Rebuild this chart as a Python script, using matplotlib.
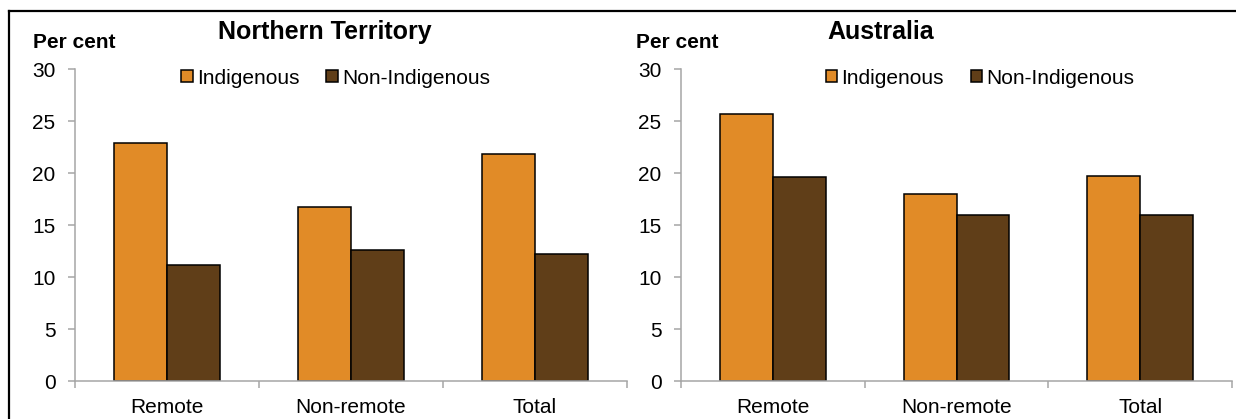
import matplotlib
matplotlib.use("Agg")
import matplotlib.pyplot as plt
from matplotlib.lines import Line2D
from matplotlib.patches import Patch
import numpy as np

plt.rcParams['font.family'] = ['Liberation Sans', 'DejaVu Sans']

categories = ["Remote", "Non-remote", "Total"]
series_names = ["Indigenous", "Non-Indigenous"]
nt_indigenous = [22.9, 16.7, 21.8]
nt_non_indigenous = [11.2, 12.6, 12.2]
aus_indigenous = [25.7, 18.0, 19.7]
aus_non_indigenous = [19.6, 16.0, 16.0]
panel_titles = ["Northern Territory", "Australia"]
yticks = [0, 5, 10, 15, 20, 25, 30]

ORANGE = '#E18B27'
BROWN = '#603E18'
GRAY = '#A6A6A6'
FS = 15

W, H = 1236, 419
fig = plt.figure(figsize=(W / 100, H / 100), dpi=100)

def fx(px):
    return px / W

def fy(py):
    return 1 - py / H

panels = [
    (75, 627, nt_indigenous, nt_non_indigenous, panel_titles[0], 325, 33, 0.472),
    (681, 1232, aus_indigenous, aus_non_indigenous, panel_titles[1], 881, 636, 0.543),
]

y0_px, y30_px = 381, 69.3
bw = 0.288

for (xl, xr, ind, non, title, tx, pcx, legx) in panels:
    ax = fig.add_axes([fx(xl), fy(y0_px), (xr - xl) / W, (y0_px - y30_px) / H])
    x = np.arange(len(categories))
    ax.bar(x - bw / 2, ind, width=bw, color=ORANGE, edgecolor='black', linewidth=1.1, label=series_names[0])
    ax.bar(x + bw / 2, non, width=bw, color=BROWN, edgecolor='black', linewidth=1.1, label=series_names[1])
    ax.set_xlim(-0.5, len(categories) - 0.5)
    ax.set_ylim(0, 30)
    ax.set_yticks(yticks)
    ax.set_yticklabels([str(t) for t in yticks], fontsize=FS)
    ax.set_xticks(x)
    ax.set_xticklabels(categories, fontsize=FS)
    ax.set_xticks(np.arange(-0.5, len(categories)), minor=True)
    ax.tick_params(axis='x', which='major', length=0, pad=12)
    ax.tick_params(axis='x', which='minor', length=5, width=1.1, color=GRAY, direction='out')
    ax.tick_params(axis='y', length=5, width=1.1, color=GRAY, direction='out', pad=9)
    for s in ['top', 'right']:
        ax.spines[s].set_visible(False)
    for s in ['left', 'bottom']:
        ax.spines[s].set_color(GRAY)
        ax.spines[s].set_linewidth(1.1)
    handles = [Patch(facecolor=ORANGE, edgecolor='black', linewidth=1.1),
               Patch(facecolor=BROWN, edgecolor='black', linewidth=1.1)]
    ax.legend(handles, series_names, loc='center', bbox_to_anchor=(legx, (y0_px - 78) / (y0_px - y30_px)), ncol=2,
              frameon=False, fontsize=FS, handlelength=0.55, handleheight=0.55,
              handletextpad=0.2, columnspacing=1.3, borderpad=0, borderaxespad=0)
    fig.text(fx(tx), fy(32), title, ha='center', va='center', fontsize=18, fontweight='bold')
    fig.text(fx(pcx), fy(43), "Per cent", ha='left', va='center', fontsize=FS, fontweight='bold')

# outer frame (top and left edges)
fig.add_artist(Line2D([fx(9), 1], [fy(11), fy(11)], color='black', linewidth=1.6, transform=fig.transFigure))
fig.add_artist(Line2D([fx(9), fx(9)], [fy(11), 0], color='black', linewidth=1.6, transform=fig.transFigure))

fig.savefig("out.png", dpi=100)
